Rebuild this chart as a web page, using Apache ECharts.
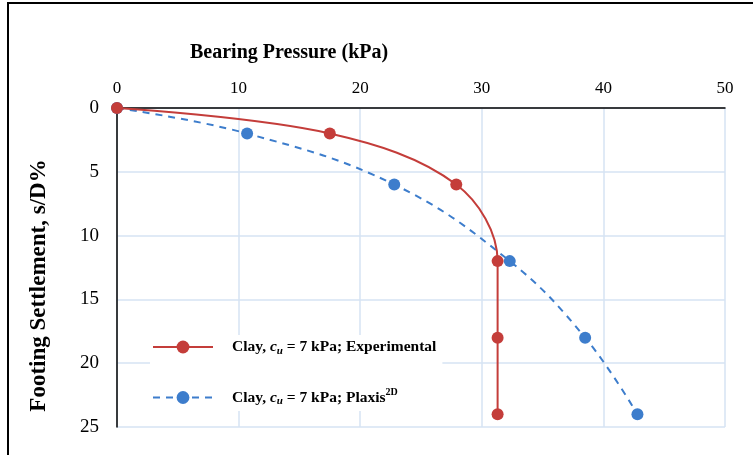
<!DOCTYPE html>
<html>
<head>
<meta charset="utf-8">
<script src="https://cdn.jsdelivr.net/npm/echarts@6/dist/echarts.min.js"></script>
<style>
  html, body { margin: 0; padding: 0; background: #fff; }
  #chart { width: 753px; height: 455px; }
</style>
</head>
<body>
<div id="chart"></div>
<script>
// bearing pressure (kPa) vs settlement (s/D %)
var xTicks = [0, 10, 20, 30, 40, 50];
var expPressure = [0, 17.5, 27.9, 31.3, 31.3, 31.3];
var expSettle = [0, 2, 6, 12, 18, 24];
var plxPressure = [0, 10.7, 22.8, 32.3, 38.5, 42.8];
var plxSettle = [0, 2, 6, 12, 18, 24];

function pairs(xs, ys) {
    var out = [];
    for (var i = 0; i < xs.length; i++) {
        out.push([xs[i], ys[i]]);
    }
    return out;
}

var chart = echarts.init(document.getElementById('chart'));
var font = 'Liberation Serif';
var red = '#c43d3a';
var blue = '#3d7dcc';
var gridColor = '#d6e3f3';
var black = '#000';

var option = {
    animation: false,
    textStyle: { fontFamily: font },
    graphic: [{
        type: 'rect',
        shape: { x: 8, y: 3, width: 780, height: 480 },
        style: { fill: 'none', stroke: black, lineWidth: 2 },
        silent: true
    }],
    title: {
        text: 'Bearing Pressure (kPa)',
        left: 190,
        top: 43,
        padding: 0,
        textStyle: { fontFamily: font, fontSize: 20, fontWeight: 'bold', color: black }
    },
    grid: { left: 117, top: 108, right: 28, bottom: 28, containLabel: false },
    xAxis: {
        type: 'value',
        position: 'top',
        min: 0, max: 50, interval: 10,
        axisLine: { show: true, lineStyle: { color: black, width: 1.5 } },
        axisTick: { show: false },
        axisLabel: { fontFamily: font, fontSize: 17, color: black, margin: 11 },
        splitLine: { show: true, lineStyle: { color: gridColor, width: 1.5 } }
    },
    yAxis: {
        type: 'value',
        inverse: true,
        min: 0, max: 25, interval: 5,
        name: 'Footing Settlement, s/D%',
        nameLocation: 'middle',
        nameGap: 66,
        nameTextStyle: { fontFamily: font, fontSize: 23, fontWeight: 'bold', color: black, padding: [0, 36, 0, 0] },
        axisLine: { show: true, lineStyle: { color: black, width: 1.5 } },
        axisTick: { show: false },
        axisLabel: { fontFamily: font, fontSize: 19, color: black, margin: 18 },
        splitLine: { show: true, lineStyle: { color: gridColor, width: 1.5 } }
    },
    legend: {
        orient: 'vertical',
        left: 150,
        top: 335,
        itemWidth: 60,
        itemHeight: 16,
        itemGap: 31,
        backgroundColor: '#fff',
        padding: [4, 6, 4, 2],
        formatter: function (name) {
            if (name === 'exp') {
                return '{g|}{b|Clay, }{i|c}{sub|u}{b| = 7 kPa; Experimental}';
            }
            return '{g|}{b|Clay, }{i|c}{sub|u}{b| = 7 kPa; Plaxis}{sup|2D}';
        },
        textStyle: {
            rich: {
                g: { width: 14 },
                b: { fontFamily: font, fontSize: 15.5, fontWeight: 'bold', color: black },
                i: { fontFamily: font, fontSize: 15.5, fontWeight: 'bold', fontStyle: 'italic', color: black },
                sub: { fontFamily: font, fontSize: 11, fontWeight: 'bold', fontStyle: 'italic', color: black, padding: [8, 0, 0, 0] },
                sup: { fontFamily: font, fontSize: 10, fontWeight: 'bold', color: black, padding: [0, 0, 10, 0] }
            }
        },
        data: ['exp', 'plx']
    },
    series: [{
        name: 'exp',
        type: 'line',
        data: pairs(expPressure, expSettle),
        smooth: 0.35,
        symbol: 'circle',
        symbolSize: 12,
        itemStyle: { color: red },
        lineStyle: { color: red, width: 2 },
        z: 3
    }, {
        name: 'plx',
        type: 'line',
        data: pairs(plxPressure, plxSettle),
        smooth: 0.4,
        symbol: 'circle',
        symbolSize: 12,
        itemStyle: { color: blue },
        lineStyle: { color: blue, width: 2, type: [7, 6] },
        z: 2
    }]
};

chart.setOption(option);
</script>
</body>
</html>
